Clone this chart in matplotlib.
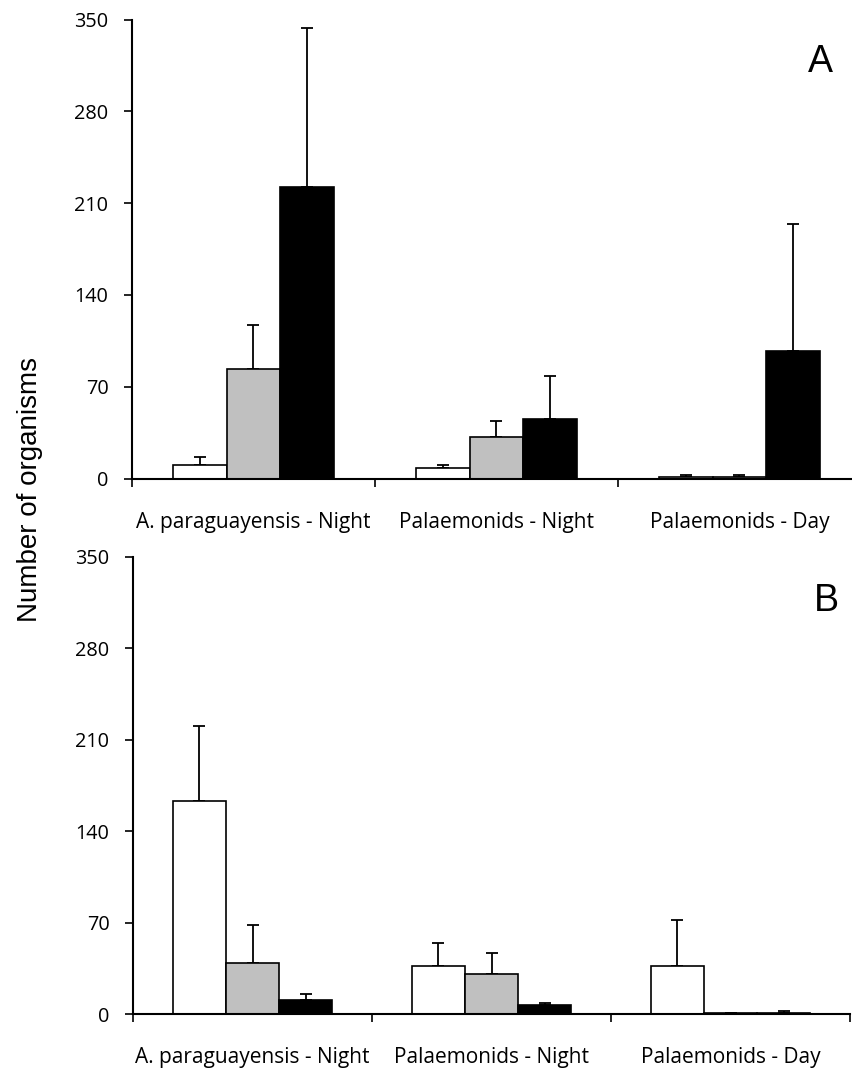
import numpy as np
import matplotlib.pyplot as plt
from matplotlib.ticker import FixedLocator

groups = ["A. paraguayensis - Night", "Palaemonids - Night", "Palaemonids - Day"]
series_colors = ["white", "#C0C0C0", "black"]

# panel A: means and upper error per series (white, grey, black)
a_white = [10.3, 7.8, 1.4]
a_white_err = [6.3, 2.5, 1.5]
a_grey = [83.5, 31.4, 1.4]
a_grey_err = [33.5, 12.5, 1.5]
a_black = [222.0, 45.4, 97.5]
a_black_err = [121.5, 33.0, 96.5]

# panel B
b_white = [163.0, 37.0, 37.0]
b_white_err = [57.4, 17.6, 34.7]
b_grey = [39.3, 30.6, 1.0]
b_grey_err = [28.8, 16.4, 0.0]
b_black = [10.7, 7.1, 1.0]
b_black_err = [4.9, 1.1, 1.2]

yticks = [0, 70, 140, 210, 280, 350]

W, H = 852, 1069
fig = plt.figure(figsize=(W / 100, H / 100), dpi=100)

tick_font = "Open Sans"
bar_w = 0.222


def draw_panel(rect, data, letter, letter_xy):
    ax = fig.add_axes(rect)
    x = np.arange(len(groups)) + 0.5
    for k, (vals, errs) in enumerate(data):
        xs = x + (k - 1) * bar_w
        ax.bar(xs, vals, width=bar_w, color=series_colors[k],
               edgecolor="black", linewidth=1.2, zorder=2)
        ax.errorbar(xs, vals, yerr=[np.zeros(len(vals)), errs], fmt="none",
                    ecolor="black", elinewidth=1.3, capsize=4, capthick=1.3,
                    zorder=1)
    ax.set_xlim(0, 3)
    ax.set_ylim(0, 350)
    ax.set_yticks(yticks)
    ax.set_yticklabels([str(t) for t in yticks], fontsize=14.3, family=tick_font)
    ax.set_xticks(x)
    ax.set_xticklabels(groups, fontsize=15, family=tick_font)
    ax.xaxis.set_minor_locator(FixedLocator([0, 1, 2, 3]))
    ax.tick_params(axis="x", which="major", length=0, pad=24)
    ax.tick_params(axis="x", which="minor", length=6, width=1.2, direction="out")
    ax.tick_params(axis="y", length=6, width=1.2, direction="out", pad=11)
    for s in ["top", "right"]:
        ax.spines[s].set_visible(False)
    for s in ["left", "bottom"]:
        ax.spines[s].set_linewidth(1.5)
    ax.spines["bottom"].set_zorder(3)
    fig.text(letter_xy[0] / W, 1 - letter_xy[1] / H, letter, fontsize=27,
             family="Liberation Sans", ha="center", va="center")
    return ax


rect_a = [132 / W, 1 - 478.5 / H, (861 - 132) / W, (478.5 - 19.6) / H]
rect_b = [133 / W, 1 - 1014 / H, (850 - 133) / W, (1014 - 556.7) / H]

draw_panel(rect_a, [(a_white, a_white_err), (a_grey, a_grey_err),
                    (a_black, a_black_err)], "A", (820, 62))
draw_panel(rect_b, [(b_white, b_white_err), (b_grey, b_grey_err),
                    (b_black, b_black_err)], "B", (826, 601))

fig.text(30 / W, 1 - 490 / H, "Number of organisms", rotation=90,
         fontsize=20, family="Liberation Sans", ha="center", va="center")

fig.savefig("out.png", dpi=100)
